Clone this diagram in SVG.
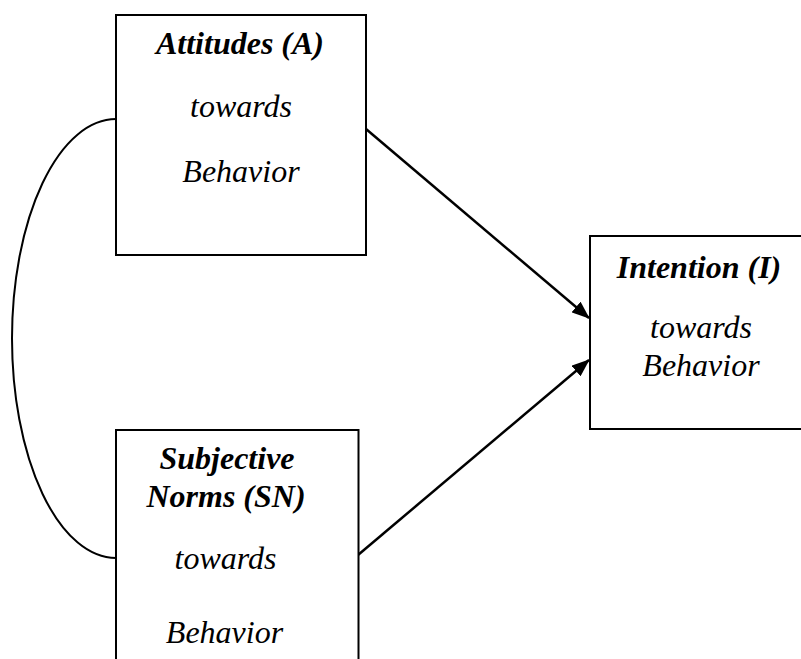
<svg xmlns="http://www.w3.org/2000/svg" width="801" height="659" viewBox="0 0 801 659">
<style>
.box{fill:#fff;stroke:#000;stroke-width:2}
text{font-size:32px;font-style:italic;fill:#000;text-anchor:middle}
.b{font-weight:bold}
.con{fill:none;stroke:#000;stroke-width:2.5}
</style>
<defs>
<marker id="ah" markerWidth="18" markerHeight="14" refX="17" refY="7" orient="auto" markerUnits="userSpaceOnUse">
<path d="M0,0 L18,7 L0,14 Z" fill="#000"/>
</marker>
</defs>
<g id="connectors">
<path class="con" d="M366,129 L589,318" marker-end="url(#ah)"/>
<path class="con" d="M358,555 L589,360" marker-end="url(#ah)"/>
<path d="M116,119 A104,219.5 0 0 0 116,558" fill="none" stroke="#000" stroke-width="2"/>
</g>
<g id="attitudes" font-family="Liberation Serif">
<rect class="box" x="116" y="15" width="250" height="240"/>
<text class="b" x="240" y="54">Attitudes (A)</text>
<text x="241" y="117">towards</text>
<text x="241" y="182">Behavior</text>
</g>
<g id="intention" font-family="Liberation Serif">
<rect class="box" x="590" y="236" width="214" height="193"/>
<text class="b" x="699" y="278">Intention (I)</text>
<text x="701" y="338">towards</text>
<text x="701" y="376">Behavior</text>
</g>
<g id="subjective-norms" font-family="Liberation Serif">
<rect class="box" x="116" y="430" width="242.5" height="240"/>
<text class="b" x="227" y="469">Subjective</text>
<text class="b" x="226" y="507">Norms (SN)</text>
<text x="225.5" y="569">towards</text>
<text x="224.5" y="643">Behavior</text>
</g>
</svg>
